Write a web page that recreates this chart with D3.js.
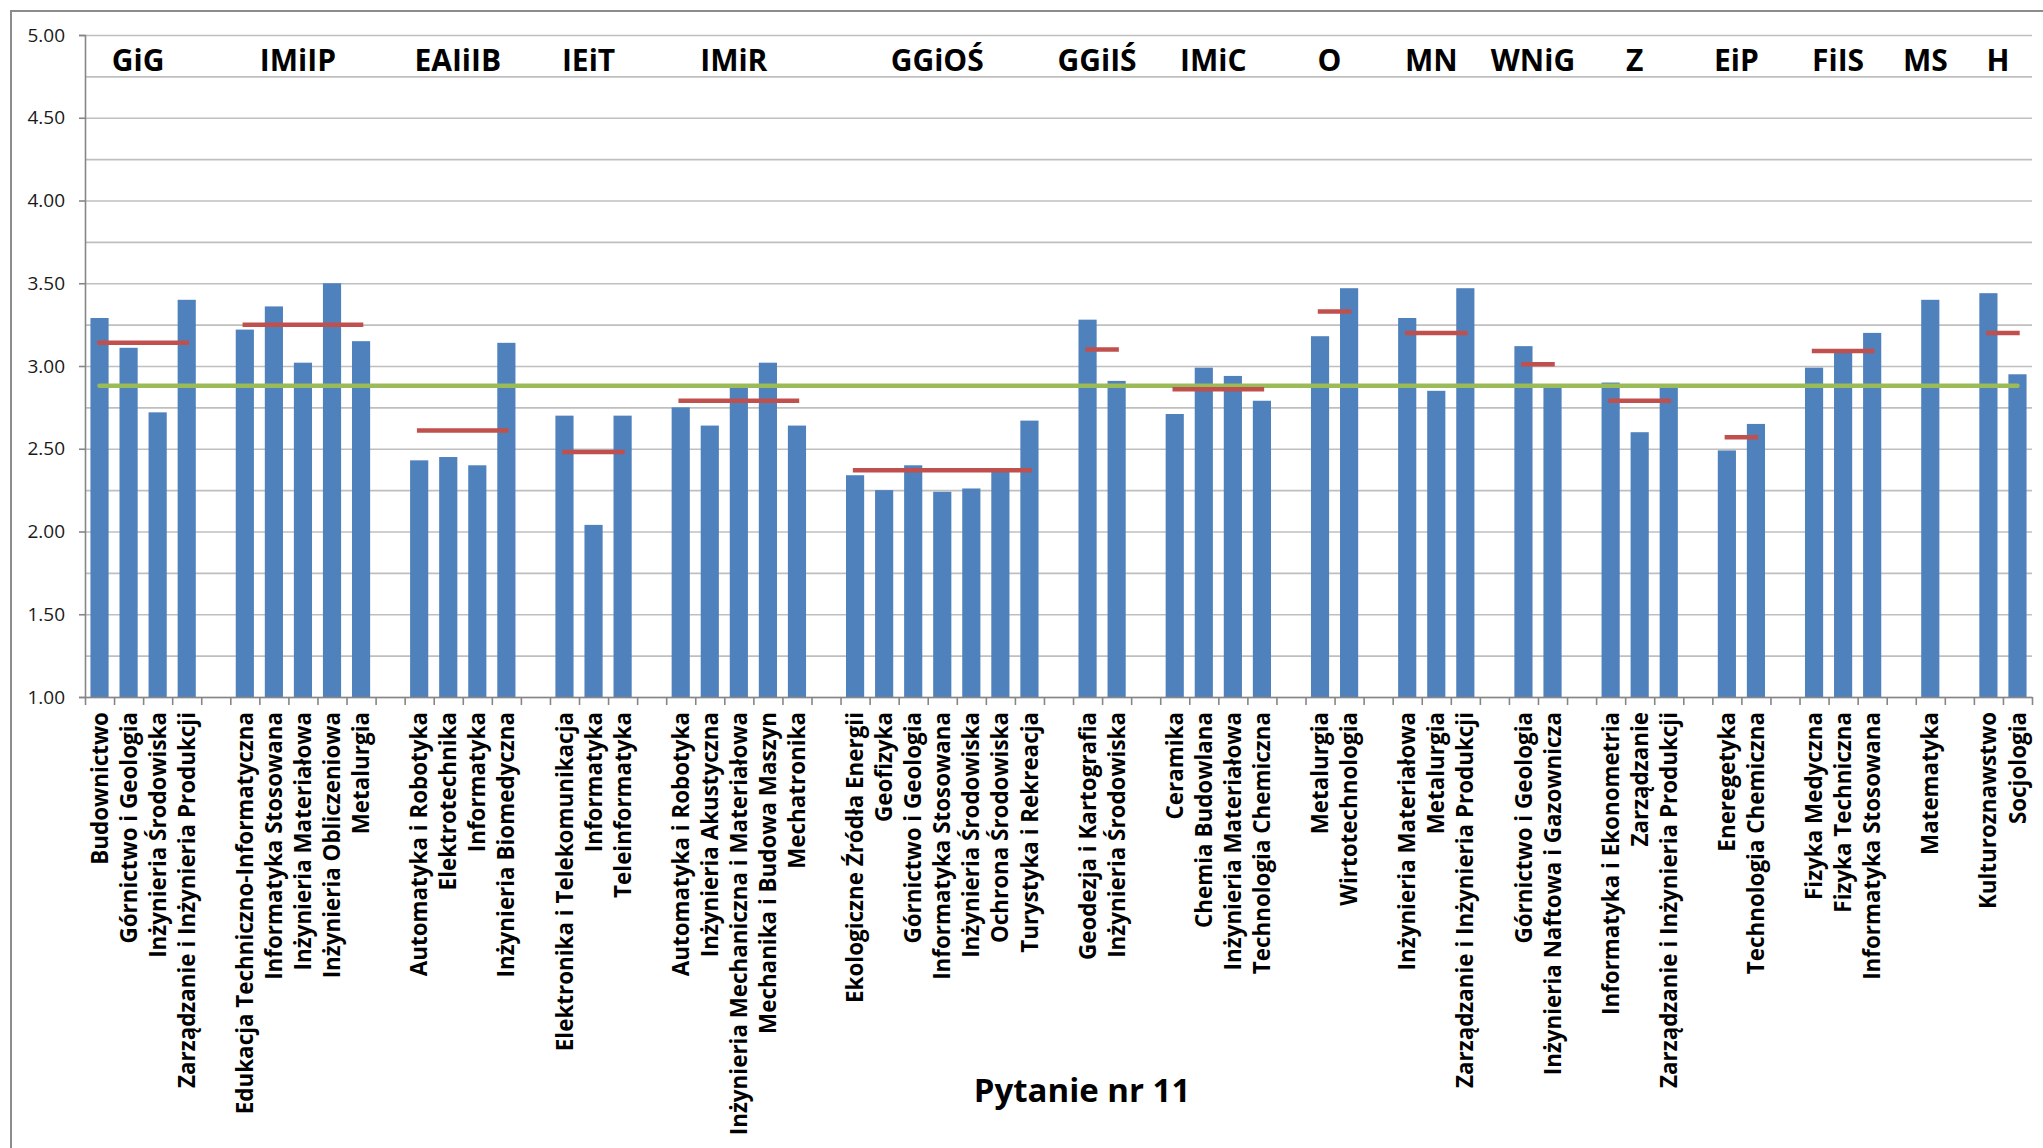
<!DOCTYPE html>
<html>
<head>
<meta charset="utf-8">
<script src="https://cdn.jsdelivr.net/npm/d3@7"></script>
<style>
  html, body { margin: 0; padding: 0; background: #ffffff; }
  svg { display: block; }
  text { font-family: "Open Sans", "Liberation Sans", sans-serif; }
</style>
</head>
<body>
<svg id="chart" width="2043" height="1148"></svg>
<script>
// ---------------- DATA ----------------
const groups = ["GiG", "IMiIP", "EAIiIB", "IEiT", "IMiR", "GGiOŚ", "GGiIŚ", "IMiC",
                "O", "MN", "WNiG", "Z", "EiP", "FiIS", "MS", "H"];

const programs = [
  ["Budownictwo", "Górnictwo i Geologia", "Inżynieria Środowiska", "Zarządzanie i Inżynieria Produkcji"],
  ["Edukacja Techniczno-Informatyczna", "Informatyka Stosowana", "Inżynieria Materiałowa", "Inżynieria Obliczeniowa", "Metalurgia"],
  ["Automatyka i Robotyka", "Elektrotechnika", "Informatyka", "Inżynieria Biomedyczna"],
  ["Elektronika i Telekomunikacja", "Informatyka", "Teleinformatyka"],
  ["Automatyka i Robotyka", "Inżynieria Akustyczna", "Inżynieria Mechaniczna i Materiałowa", "Mechanika i Budowa Maszyn", "Mechatronika"],
  ["Ekologiczne Źródła Energii", "Geofizyka", "Górnictwo i Geologia", "Informatyka Stosowana", "Inżynieria Środowiska", "Ochrona Środowiska", "Turystyka i Rekreacja"],
  ["Geodezja i Kartografia", "Inżynieria Środowiska"],
  ["Ceramika", "Chemia Budowlana", "Inżynieria Materiałowa", "Technologia Chemiczna"],
  ["Metalurgia", "Wirtotechnologia"],
  ["Inżynieria Materiałowa", "Metalurgia", "Zarządzanie i Inżynieria Produkcji"],
  ["Górnictwo i Geologia", "Inżynieria Naftowa i Gazownicza"],
  ["Informatyka i Ekonometria", "Zarządzanie", "Zarządzanie i Inżynieria Produkcji"],
  ["Eneregetyka", "Technologia Chemiczna"],
  ["Fizyka Medyczna", "Fizyka Techniczna", "Informatyka Stosowana"],
  ["Matematyka"],
  ["Kulturoznawstwo", "Socjologia"]
];

const scores = [
  [3.29, 3.11, 2.72, 3.40],
  [3.22, 3.36, 3.02, 3.50, 3.15],
  [2.43, 2.45, 2.40, 3.14],
  [2.70, 2.04, 2.70],
  [2.75, 2.64, 2.87, 3.02, 2.64],
  [2.34, 2.25, 2.40, 2.24, 2.26, 2.37, 2.67],
  [3.28, 2.91],
  [2.71, 2.99, 2.94, 2.79],
  [3.18, 3.47],
  [3.29, 2.85, 3.47],
  [3.12, 2.87],
  [2.90, 2.60, 2.87],
  [2.49, 2.65],
  [2.99, 3.08, 3.20],
  [3.40],
  [3.44, 2.95]
];

const groupMeans = [3.14, 3.25, 2.61, 2.48, 2.79, 2.37, 3.10, 2.86,
                    3.33, 3.20, 3.01, 2.79, 2.57, 3.09, 3.40, 3.20];

const overallMean = 2.88;

const yGridValues = [1.00, 1.25, 1.50, 1.75, 2.00, 2.25, 2.50, 2.75, 3.00,
                     3.25, 3.50, 3.75, 4.00, 4.25, 4.50, 4.75, 5.00];
const yTickLabels = [1.00, 1.50, 2.00, 2.50, 3.00, 3.50, 4.00, 4.50, 5.00];

const chartTitle = "Pytanie nr 11";

// ---------------- LAYOUT ----------------
const W = 2043, H = 1148;
const plot = { left: 85, right: 2032, top: 35, bottom: 697 };

const COLORS = {
  bar: "#4F81BD",
  groupMean: "#C0504D",
  overall: "#9BBB59",
  grid: "#BFBFBF",
  axis: "#868686",
  frame: "#8C8C8C",
  text: "#000000"
};

// Build slot list (programs with an empty slot between faculties)
const slots = [];
groups.forEach((g, gi) => {
  if (gi > 0) slots.push({ key: "gap-" + gi, gap: true });
  programs[gi].forEach((p, j) => {
    slots.push({ key: gi + "-" + j, gap: false, gi, j, name: p, value: scores[gi][j] });
  });
});
const bars = slots.filter(s => !s.gap);

const svg = d3.select("#chart");

// Outer chart frame
svg.append("rect")
  .attr("x", 11).attr("y", 11)
  .attr("width", W + 20).attr("height", H + 20)
  .attr("fill", "#ffffff")
  .attr("stroke", COLORS.frame)
  .attr("stroke-width", 2);

const x = d3.scaleBand()
  .domain(slots.map(s => s.key))
  .range([plot.left, plot.right])
  .paddingInner(0.375)
  .paddingOuter(0.1875);

const xi = d3.scaleLinear().domain([0, slots.length]).range([plot.left, plot.right]);

const y = d3.scaleLinear().domain([1, 5]).range([plot.bottom, plot.top]);

const cx = s => x(s.key) + x.bandwidth() / 2;

// Gridlines
const gridAxis = d3.axisLeft(y)
  .tickValues(yGridValues)
  .tickSize(-(plot.right - plot.left))
  .tickFormat("");
const gGrid = svg.append("g")
  .attr("transform", `translate(${plot.left},0)`)
  .call(gridAxis);
gGrid.select(".domain").remove();
gGrid.selectAll(".tick line")
  .attr("stroke", COLORS.grid)
  .attr("stroke-width", 1.6);

// Bars
svg.append("g").selectAll("rect")
  .data(bars)
  .join("rect")
  .attr("x", d => x(d.key))
  .attr("width", x.bandwidth())
  .attr("y", d => y(d.value))
  .attr("height", d => y(1) - y(d.value))
  .attr("fill", COLORS.bar);

// Y axis
const yAxis = d3.axisLeft(y)
  .tickValues(yTickLabels)
  .tickSize(6)
  .tickPadding(14)
  .tickFormat(d3.format(".2f"));
const gY = svg.append("g")
  .attr("transform", `translate(${plot.left},0)`)
  .call(yAxis);
gY.select(".domain").attr("stroke", COLORS.axis).attr("stroke-width", 1.6);
gY.selectAll(".tick line").attr("stroke", COLORS.axis).attr("stroke-width", 1.6);
gY.selectAll(".tick text")
  .attr("font-family", "Open Sans")
  .attr("font-size", 19)
  .attr("fill", "#1a1a1a");

// X axis (ticks at slot boundaries)
const xAxis = d3.axisBottom(xi)
  .tickValues(d3.range(slots.length + 1))
  .tickSize(8)
  .tickSizeOuter(0)
  .tickFormat("");
const gX = svg.append("g")
  .attr("transform", `translate(0,${plot.bottom})`)
  .call(xAxis);
gX.select(".domain").attr("stroke", COLORS.axis).attr("stroke-width", 1.6);
gX.selectAll(".tick line").attr("stroke", COLORS.axis).attr("stroke-width", 1.6);

// Overall mean line (green)
const overallLine = d3.line().x(d => cx(d)).y(() => y(overallMean));
svg.append("path")
  .datum([bars[0], bars[bars.length - 1]])
  .attr("d", overallLine)
  .attr("fill", "none")
  .attr("stroke", COLORS.overall)
  .attr("stroke-width", 4.5)
  .attr("stroke-linecap", "round");

// Faculty mean lines (red)
const groupLine = d3.line().x(d => cx(d)).y(d => y(groupMeans[d.gi]));
groups.forEach((g, gi) => {
  const members = bars.filter(b => b.gi === gi);
  if (members.length < 2) return;
  svg.append("path")
    .datum([members[0], members[members.length - 1]])
    .attr("d", groupLine)
    .attr("fill", "none")
    .attr("stroke", COLORS.groupMean)
    .attr("stroke-width", 4.5)
    .attr("stroke-linecap", "square");
});

// Faculty labels along the top
svg.append("g").selectAll("text")
  .data(groups)
  .join("text")
  .attr("x", (g, gi) => {
    const members = bars.filter(b => b.gi === gi);
    return (cx(members[0]) + cx(members[members.length - 1])) / 2 - 5;
  })
  .attr("y", 71)
  .attr("text-anchor", "middle")
  .attr("font-family", "Open Sans")
  .attr("font-weight", "bold")
  .attr("font-size", 30)
  .attr("fill", COLORS.text)
  .text(g => g);

// Rotated program labels
svg.append("g").selectAll("text")
  .data(bars)
  .join("text")
  .attr("transform", d => `translate(${cx(d)},${plot.bottom + 15}) rotate(-90)`)
  .attr("text-anchor", "end")
  .attr("dy", "0.36em")
  .attr("font-family", "Open Sans")
  .attr("font-weight", "bold")
  .attr("font-size", 22.4)
  .attr("fill", COLORS.text)
  .text(d => d.name);

// Title
svg.append("text")
  .attr("x", 1082)
  .attr("y", 1102)
  .attr("text-anchor", "middle")
  .attr("font-family", "Open Sans")
  .attr("font-weight", "bold")
  .attr("font-size", 33)
  .attr("fill", COLORS.text)
  .text(chartTitle);
</script>
</body>
</html>
